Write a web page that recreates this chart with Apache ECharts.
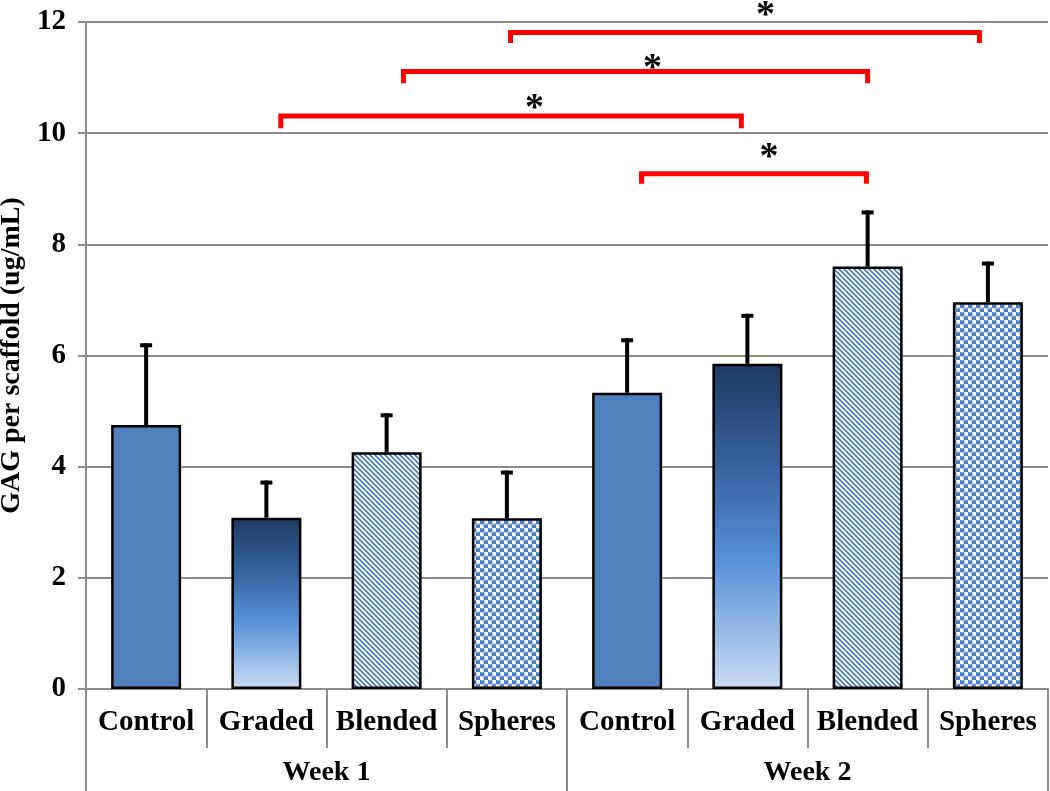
<!DOCTYPE html>
<html><head><meta charset="utf-8">
<script src="https://cdn.jsdelivr.net/npm/echarts/dist/echarts.min.js"></script>
<style>html,body{margin:0;padding:0;background:#fff}#c{width:1050px;height:791px}</style>
</head><body><div id="c"></div>
<script>
// ---- data ----
const groups = ['Week 1', 'Week 2'];
const categories = ['Control', 'Graded', 'Blended', 'Spheres', 'Control', 'Graded', 'Blended', 'Spheres'];
const fillTypes = ['solid', 'gradient', 'stripes', 'spheres', 'solid', 'gradient', 'stripes', 'spheres'];
const means = [4.75, 3.08, 4.26, 3.07, 5.33, 5.85, 7.60, 6.96];
const errors = [1.47, 0.67, 0.70, 0.86, 0.98, 0.90, 1.01, 0.73];
const yMin = 0, yMax = 12, yInterval = 2;
const yName = 'GAG per scaffold (ug/mL)';
// significance brackets (x in category index units, y in data units)
const bracketLeft = [3.03, 2.14, 1.12, 4.12];
const bracketRight = [6.93, 6.00, 4.95, 5.99];
const bracketTop = [11.81, 11.11, 10.31, 9.27];
const bracketLeg = [11.62, 10.90, 10.09, 9.09];
const starX = [5.15, 4.21, 3.23, 5.18];
const starY = [12.22, 11.26, 10.54, 9.66];

// ---- fills ----
const BLUE = '#4f81bd';
function stripeCanvas() {
  const s = 5, c = document.createElement('canvas'); c.width = s; c.height = s;
  const g = c.getContext('2d');
  g.fillStyle = '#fff'; g.fillRect(0, 0, s, s);
  g.strokeStyle = BLUE; g.lineWidth = 1.9;
  g.beginPath();
  for (let k = -1; k <= 1; k++) { g.moveTo(-2, -2 + k * s); g.lineTo(s + 2, s + 2 + k * s); }
  g.stroke();
  return c;
}
function sphereCanvas() {
  const s = 8, c = document.createElement('canvas'); c.width = s; c.height = s;
  const g = c.getContext('2d');
  g.fillStyle = '#fff'; g.fillRect(0, 0, s, s);
  const pts = [[2, 2], [6, 6]];
  pts.forEach(p => {
    g.fillStyle = '#4a7cc0'; g.beginPath(); g.arc(p[0], p[1], 2.5, 0, Math.PI * 2); g.fill();
    g.fillStyle = '#b8cdea'; g.fillRect(p[0] - 1, p[1] - 1.6, 2, 0.8);
  });
  return c;
}
const fills = {
  solid: BLUE,
  gradient: { type: 'linear', x: 0, y: 0, x2: 0, y2: 1, colorStops: [
    { offset: 0, color: '#1d3a62' }, { offset: 0.35, color: '#3b67a6' },
    { offset: 0.6, color: '#5690d8' }, { offset: 1, color: '#cadcf3' }] },
  stripes: { image: stripeCanvas(), repeat: 'repeat' },
  spheres: { image: sphereCanvas(), repeat: 'repeat' }
};

const FONT = "'Liberation Serif','Times New Roman',serif";
const GRAY = '#8c8c8c';

const barData = means.map((v, i) => ({ value: v, itemStyle: { color: fills[fillTypes[i]] } }));
const errData = means.map((v, i) => [i, v, errors[i]]);
const bracketData = bracketLeft.map((l, i) => [l, bracketRight[i], bracketTop[i], bracketLeg[i]]);
const starData = starX.map((x, i) => [x, starY[i]]);

const chart = echarts.init(document.getElementById('c'), null, { renderer: 'canvas' });
chart.setOption({
  animation: false,
  backgroundColor: '#fff',
  grid: { left: 86, right: 2, top: 22, bottom: 102, containLabel: false, outerBoundsMode: 'none' },
  xAxis: [
    { type: 'category', data: categories, position: 'bottom',
      axisLine: { show: true, onZero: false, lineStyle: { color: GRAY, width: 2 } },
      axisTick: { show: true, interval: 0, length: 59, lineStyle: { color: GRAY, width: 2 } },
      axisLabel: { interval: 0, margin: 19, color: '#000', fontFamily: FONT, fontWeight: 'bold', fontSize: 29 },
      splitLine: { show: false } },
    { type: 'category', data: groups, position: 'bottom',
      axisLine: { show: false, onZero: false },
      axisTick: { show: true, interval: 0, length: 102, lineStyle: { color: GRAY, width: 2 } },
      axisLabel: { interval: 0, margin: 70, color: '#000', fontFamily: FONT, fontWeight: 'bold', fontSize: 28 },
      splitLine: { show: false } },
    { type: 'value', min: -0.5, max: 7.5, show: false, position: 'top' }
  ],
  yAxis: {
    type: 'value', min: yMin, max: yMax, interval: yInterval,
    name: yName, nameLocation: 'middle', nameRotate: 90, nameGap: 59,
    nameTextStyle: { color: '#000', fontFamily: FONT, fontWeight: 'bold', fontSize: 28 },
    axisLine: { show: true, onZero: false, lineStyle: { color: GRAY, width: 2 } },
    axisTick: { show: true, length: 8, lineStyle: { color: GRAY, width: 2 } },
    axisLabel: { margin: 20, color: '#000', fontFamily: FONT, fontWeight: 'bold', fontSize: 29 },
    splitLine: { show: true, lineStyle: { color: GRAY, width: 2 } }
  },
  series: [
    { type: 'bar', xAxisIndex: 0, data: barData, barWidth: 70, z: 2,
      itemStyle: { borderColor: '#000', borderWidth: 2.5 } },
    { type: 'custom', xAxisIndex: 0, data: errData, z: 3,
      renderItem(params, api) {
        const x = api.value(0), v = api.value(1), e = api.value(2);
        const p0 = api.coord([x, v]), p1 = api.coord([x, v + e]);
        return { type: 'group', children: [
          { type: 'line', shape: { x1: p0[0], y1: p0[1], x2: p1[0], y2: p1[1] }, style: { stroke: '#000', lineWidth: 4 } },
          { type: 'line', shape: { x1: p1[0] - 6, y1: p1[1] + 2, x2: p1[0] + 6, y2: p1[1] + 2 }, style: { stroke: '#000', lineWidth: 4 } }
        ] };
      } },
    { type: 'custom', xAxisIndex: 2, data: bracketData, z: 4, clip: false,
      renderItem(params, api) {
        const a = api.coord([api.value(0), api.value(3)]);
        const b = api.coord([api.value(0), api.value(2)]);
        const c = api.coord([api.value(1), api.value(2)]);
        const d = api.coord([api.value(1), api.value(3)]);
        return { type: 'polyline', shape: { points: [a, b, c, d] },
          style: { stroke: '#ff0000', lineWidth: 5, fill: null, lineJoin: 'miter' } };
      } },
    { type: 'custom', xAxisIndex: 2, data: starData, z: 5, clip: false,
      renderItem(params, api) {
        const p = api.coord([api.value(0), api.value(1)]);
        return { type: 'text', x: p[0], y: p[1] + 6,
          style: { text: '*', fontSize: 38, fontWeight: 'bold', fontFamily: FONT, fill: '#000', align: 'center', verticalAlign: 'middle' } };
      } }
  ]
});
</script>
</body></html>
